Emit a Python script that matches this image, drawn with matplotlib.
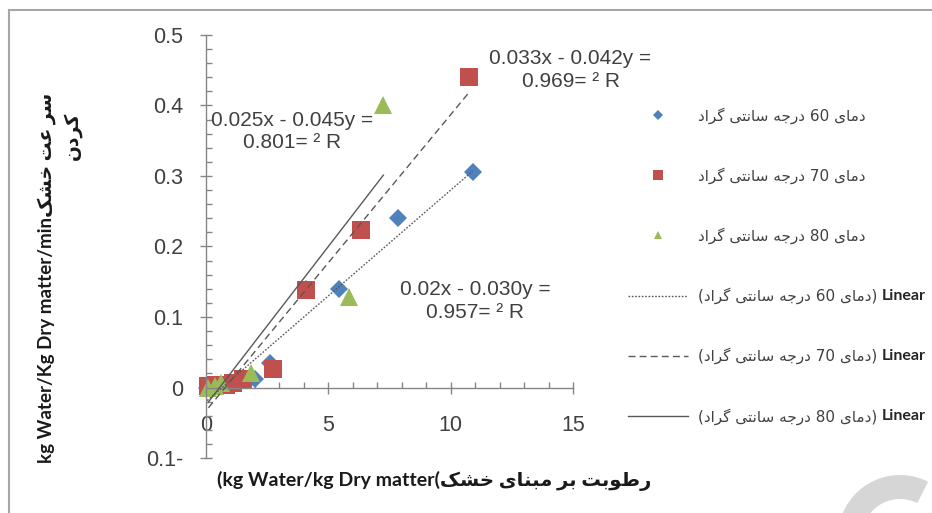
import numpy as np
import matplotlib
matplotlib.use('Agg')
import matplotlib.pyplot as plt
from matplotlib.ticker import MultipleLocator
from matplotlib.patches import Rectangle, Wedge
from matplotlib.text import Annotation
from matplotlib.transforms import IdentityTransform

# ---------------- data ----------------
moisture_60 = [10.9, 7.85, 5.45, 4.1, 2.6, 2.0, 1.6, 1.2, 0.6, 0.3, 0.05]
rate_60 = [0.305, 0.240, 0.140, 0.140, 0.035, 0.012, 0.010, 0.008, 0.004, 0.002, 0.0]

moisture_70 = [10.75, 6.35, 4.1, 2.75, 1.5, 1.1, 0.8, 0.4, 0.1]
rate_70 = [0.440, 0.224, 0.138, 0.026, 0.012, 0.006, 0.004, 0.003, 0.002]

moisture_80 = [7.25, 5.85, 1.85, 0.6, 0.35, 0.1]
rate_80 = [0.400, 0.128, 0.021, 0.006, 0.002, 0.0]

# trendlines as printed on the chart: y = slope*x + intercept
trend_slope = [0.030, 0.042, 0.045]
trend_intercept = [-0.02, -0.033, -0.025]
trend_r2 = ['0.957', '0.969', '0.801']
# equation text exactly as it shows in the picture (RTL garbled)
eq_text = ['0.02x - 0.030y =', '0.033x - 0.042y =', '0.025x - 0.045y =']
eq_pos = [(11.0, 0.123), (14.9, 0.45), (3.5, 0.363)]

temps = ['60', '70', '80']
xticks = [0, 5, 10, 15]
yticks = [-0.1, 0, 0.1, 0.2, 0.3, 0.4, 0.5]
ytick_labels = ['0.1-', '0', '0.1', '0.2', '0.3', '0.4', '0.5']

# persian words, shaped glyphs in visual order
DAMAY = '\uFBFC\uFE8E\uFEE3\uFEA9'          # دمای
DARAJE = '\uFEEA\uFE9F\uFEAD\uFEA9'         # درجه
SANTI = '\uFBFD\uFE98\uFEE7\uFE8E\uFEB3'    # سانتی
GERAD = '\uFEA9\uFE8D\uFEAE\uFB94'          # گراد
ROTUBAT = '\uFE96\uFE91\uFEEE\uFEC3\uFEAD'  # رطوبت
BAR = '\uFEAE\uFE91'                        # بر
MABNAY = '\uFBFC\uFE8E\uFEE8\uFE92\uFEE3'   # مبنای
KHOSHK = '\uFB8F\uFEB8\uFEA7'               # خشک
SORAT = '\uFE96\uFECB \uFEAE\uFEB3'         # سرعت
KARDAN = '\uFEE5\uFEA9\uFEAE\uFB90'         # کردن

series_names = [f'{GERAD} {SANTI} {DARAJE} {t} {DAMAY}' for t in temps]
xlabel = f'(kg Water/kg Dry matter({KHOSHK} {MABNAY} {BAR} {ROTUBAT}'
ylabel1 = f'kg Water/Kg Dry matter/min{KHOSHK} {SORAT}'
ylabel2 = KARDAN

colors = ['#4F81BD', '#C0504D', '#9BBB59']
markers = ['D', 's', '^']
msizes = [9.5, 13, 12.5]
trend_styles = [(0, (1.2, 1.2)), (0, (5, 3)), '-']

W, H = 932, 513
fig = plt.figure(figsize=(W / 100, H / 100), dpi=100)
ax = fig.add_axes([206 / W, 55 / H, (573 - 206) / W, (458 - 35) / H])

xs = [moisture_60, moisture_70, moisture_80]
ys = [rate_60, rate_70, rate_80]

point_handles = []
for i in range(3):
    h, = ax.plot(xs[i], ys[i], linestyle='none', marker=markers[i], ms=msizes[i],
                 color=colors[i], markeredgewidth=0, clip_on=False, zorder=2)
    point_handles.append(h)

line_handles = []
for i in range(3):
    xl = np.array([min(xs[i]), max(xs[i])])
    yl = trend_slope[i] * xl + trend_intercept[i]
    h, = ax.plot(xl, yl, color='#595959', lw=1, linestyle=trend_styles[i],
                 clip_on=False, zorder=3)
    line_handles.append(h)

for i in range(3):
    ax.text(eq_pos[i][0], eq_pos[i][1], eq_text[i] + '\n' + trend_r2[i] + '= \u00b2 R',
            ha='center', va='center', multialignment='center', fontsize=15,
            family='Liberation Sans', color='#404040', linespacing=1.25,
            clip_on=False, zorder=4)

ax.set_xlim(0, 15)
ax.set_ylim(-0.1, 0.5)
ax.set_facecolor('none')
for s in ['top', 'right']:
    ax.spines[s].set_visible(False)
ax.spines['bottom'].set_position(('data', 0))
for s in ['left', 'bottom']:
    ax.spines[s].set_color('#868686')
    ax.spines[s].set_linewidth(1)

ax.set_xticks(xticks)
ax.set_yticks(yticks)
ax.set_yticklabels(ytick_labels)
ax.xaxis.set_minor_locator(MultipleLocator(1))
ax.yaxis.set_minor_locator(MultipleLocator(0.02))
ax.tick_params(which='major', direction='inout', length=9, width=1, color='#868686',
               labelsize=15.5, labelcolor='#404040')
ax.tick_params(which='minor', direction='in', length=4.5, width=1, color='#868686')
ax.tick_params(axis='y', which='major', pad=12)
ax.tick_params(axis='x', which='major', pad=15.5)
for lab in ax.get_xticklabels() + ax.get_yticklabels():
    lab.set_family('Liberation Sans')

fig.text(434 / W, 1 - 481 / H, xlabel, ha='center', va='center', fontsize=14,
         fontweight='bold', family=['Lato', 'DejaVu Sans'], color='#1a1a1a')
fig.text(47 / W, 1 - 278 / H, ylabel1, ha='center', va='center', rotation=90,
         fontsize=13.5, fontweight='bold', family=['Lato', 'DejaVu Sans'], color='#1a1a1a')
fig.text(72 / W, 1 - 112 / H, ylabel2, ha='center', va='top', rotation=90,
         fontsize=13.5, fontweight='bold', family=['Lato', 'DejaVu Sans'], color='#1a1a1a')

labels = series_names + ['(' + n + ')' for n in series_names]
leg = fig.legend(point_handles + line_handles, labels, loc='upper left',
                 bbox_to_anchor=(628 / W, 1 - 107 / H), bbox_transform=fig.transFigure,
                 frameon=False, prop={'family': 'DejaVu Sans', 'size': 11},
                 handlelength=3.93, handletextpad=0.65, labelspacing=2.85,
                 borderpad=0, borderaxespad=0, markerscale=0.5)
for t in leg.get_texts():
    t.set_color('#404040')
# "Linear" in bold after the trendline entries (drawn after the legend)
for t in leg.get_texts()[3:]:
    an = Annotation('Linear', xy=(1, 0.5), xycoords=t, xytext=(3.5, 0),
                    textcoords='offset points', ha='left', va='center', fontsize=11.5,
                    fontweight='bold', family=['Lato', 'DejaVu Sans'], color='#262626')
    an.set_zorder(10)
    fig.add_artist(an)

# frame of the chart area and the faint watermark arc
fig.patches.append(Rectangle((9 / W, -0.1), 1.2, 1 - 10 / H + 0.1,
                             transform=fig.transFigure, fill=False,
                             edgecolor='#a6a6a6', lw=1.5))
fig.patches.append(Wedge((900, -24), 62, 63, 250, width=24, transform=IdentityTransform(),
                         facecolor='#d6d6d6', edgecolor='none', zorder=0))

fig.savefig('out.png', dpi=100)
